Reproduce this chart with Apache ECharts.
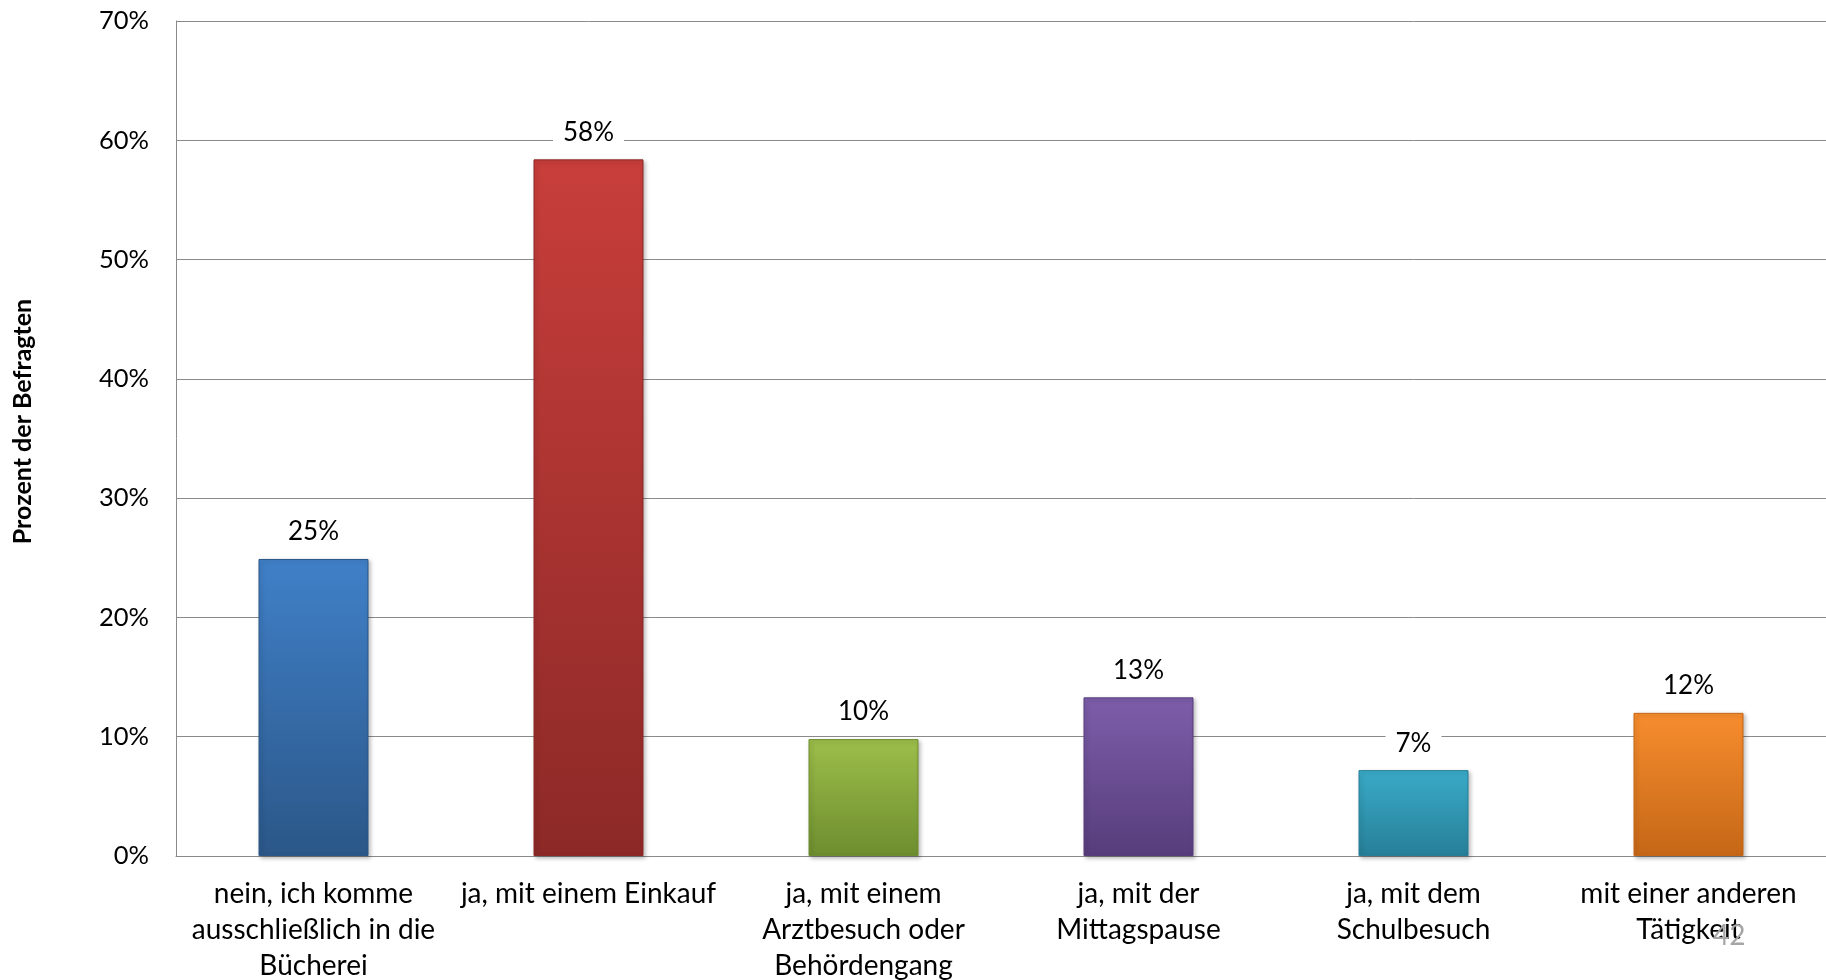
<!DOCTYPE html>
<html>
<head>
<meta charset="utf-8">
<script src="https://cdn.jsdelivr.net/npm/echarts@6/dist/echarts.min.js"></script>
<style>
html,body{margin:0;padding:0;background:#fff;}
#chart{width:1826px;height:980px;}
</style>
</head>
<body>
<div id="chart"></div>
<script>
const categories = [
  "nein, ich komme\nausschließlich in die\nBücherei",
  "ja, mit einem Einkauf",
  "ja, mit einem\nArztbesuch oder\nBehördengang",
  "ja, mit der\nMittagspause",
  "ja, mit dem\nSchulbesuch",
  "mit einer anderen\nTätigkeit"
];
const values = [24.9, 58.4, 9.8, 13.3, 7.2, 12.0];
const topColors = ["#4080c8", "#c83e3b", "#9cbe4a", "#7d5daa", "#3aabc8", "#f78d2e"];
const bottomColors = ["#2b5788", "#8c2927", "#6e8d2f", "#573d7b", "#277f98", "#c56717"];
const yTicks = { min: 0, max: 70, interval: 10 };
const yAxisTitle = "Prozent der Befragten";
const pageNumber = "42";

const FONT = "Lato";
const chart = echarts.init(document.getElementById('chart'), null, {renderer: 'canvas'});

const data = values.map((v, i) => ({
  value: v,
  itemStyle: {
    color: new echarts.graphic.LinearGradient(0, 0, 0, 1, [
      {offset: 0, color: topColors[i]},
      {offset: 1, color: bottomColors[i]}
    ]),
    borderColor: bottomColors[i],
    borderWidth: 1,
    shadowColor: 'rgba(0,0,0,0.25)',
    shadowBlur: 4,
    shadowOffsetX: 2,
    shadowOffsetY: 2
  }
}));

chart.setOption({
  animation: false,
  backgroundColor: '#fff',
  grid: {left: 176, right: 0, top: 21, bottom: 124, containLabel: false, outerBoundsMode: 'none'},
  xAxis: {
    type: 'category',
    data: categories,
    axisLine: {show: true, lineStyle: {color: '#8a8a8a', width: 1}},
    axisTick: {show: false},
    axisLabel: {
      interval: 0,
      margin: 20,
      color: '#000',
      fontFamily: FONT,
      fontSize: 28,
      lineHeight: 36
    }
  },
  yAxis: {
    type: 'value',
    min: yTicks.min,
    max: yTicks.max,
    interval: yTicks.interval,
    name: yAxisTitle,
    nameLocation: 'middle',
    nameGap: 141,
    nameRotate: 90,
    nameTextStyle: {
      fontFamily: FONT,
      fontWeight: 'bold',
      fontSize: 25,
      color: '#000',
      padding: [0, 0, 0, 34]
    },
    axisLine: {show: true, lineStyle: {color: '#8a8a8a', width: 1}},
    axisTick: {show: false},
    splitLine: {show: true, lineStyle: {color: '#8a8a8a', width: 1}},
    axisLabel: {
      formatter: '{value}%',
      margin: 27,
      color: '#000',
      fontFamily: FONT,
      fontSize: 25.5
    }
  },
  series: [{
    type: 'bar',
    data: data,
    barWidth: '40%',
    label: {
      show: true,
      position: 'top',
      distance: 12,
      formatter: p => Math.round(p.value) + '%',
      color: '#000',
      fontFamily: FONT,
      fontSize: 26,
      backgroundColor: '#fff',
      padding: [2, 10]
    }
  }],
  graphic: [{
    type: 'text',
    left: 1713,
    top: 922,
    z: 1000,
    zlevel: 1,
    style: {
      text: pageNumber,
      fill: '#a6a6a6',
      font: '28px ' + FONT
    }
  }]
});
</script>
</body>
</html>
